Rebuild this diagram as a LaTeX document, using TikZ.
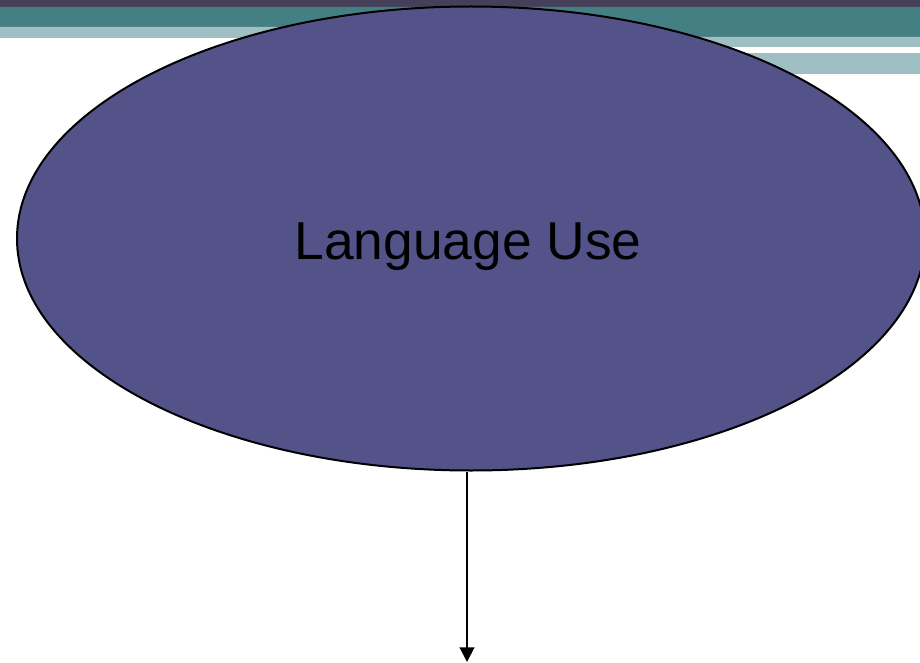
\documentclass[tikz,border=0pt]{standalone}
\usepackage{fontspec}
\setmainfont{Liberation Sans}
\usetikzlibrary{positioning, arrows.meta}
\definecolor{barDark}{RGB}{69,64,88}
\definecolor{barTeal}{RGB}{68,127,132}
\definecolor{barLight}{RGB}{160,191,194}
\definecolor{useFill}{RGB}{83,83,137}
\tikzset{
    useEllipse/.style={ellipse, draw, line width=1.5pt, fill=useFill, minimum width=681pt, minimum height=348pt, inner sep=0pt},
    useLabel/.style={inner sep=0pt, font=\fontsize{40}{44}\selectfont},
    downArrow/.style={line width=1.5pt, -{Triangle[length=11pt, width=11pt]}}
}
\usetikzlibrary{shapes.geometric}
\begin{document}
\begin{tikzpicture}[x=0.75pt,y=0.75pt,yscale=-1,xscale=1]
        \useasboundingbox (0,0) rectangle (920,663);

        %Shape: Rectangle [top bar]
        \fill [barDark] (0,0) rectangle (920,7);
        %Shape: Rectangle [teal band, stepped]
        \fill [barTeal] (0,7) -- (920,7) -- (920,37) -- (664,37) -- (664,27) -- (0,27) -- cycle;
        %Shape: Rectangle [light band, stepped]
        \fill [barLight] (0,27) -- (664,27) -- (664,37) -- (920,37) -- (920,47) -- (664,47) -- (664,38) -- (0,38) -- cycle;
        %Shape: Rectangle [light band, right]
        \fill [barLight] (664,53) rectangle (920,74);

        % Ellipse Node
        \node [useEllipse] (use) at (471,238.5) {};
        % Text Node
        \node [useLabel] (useText) at (468,246.5) {Language Use};
        \coordinate (useEnd) at (467,662);

        %Straight Lines [arrow down]
        \draw [downArrow] (use.south -| useEnd) -- (useEnd);

\end{tikzpicture}
\end{document}
